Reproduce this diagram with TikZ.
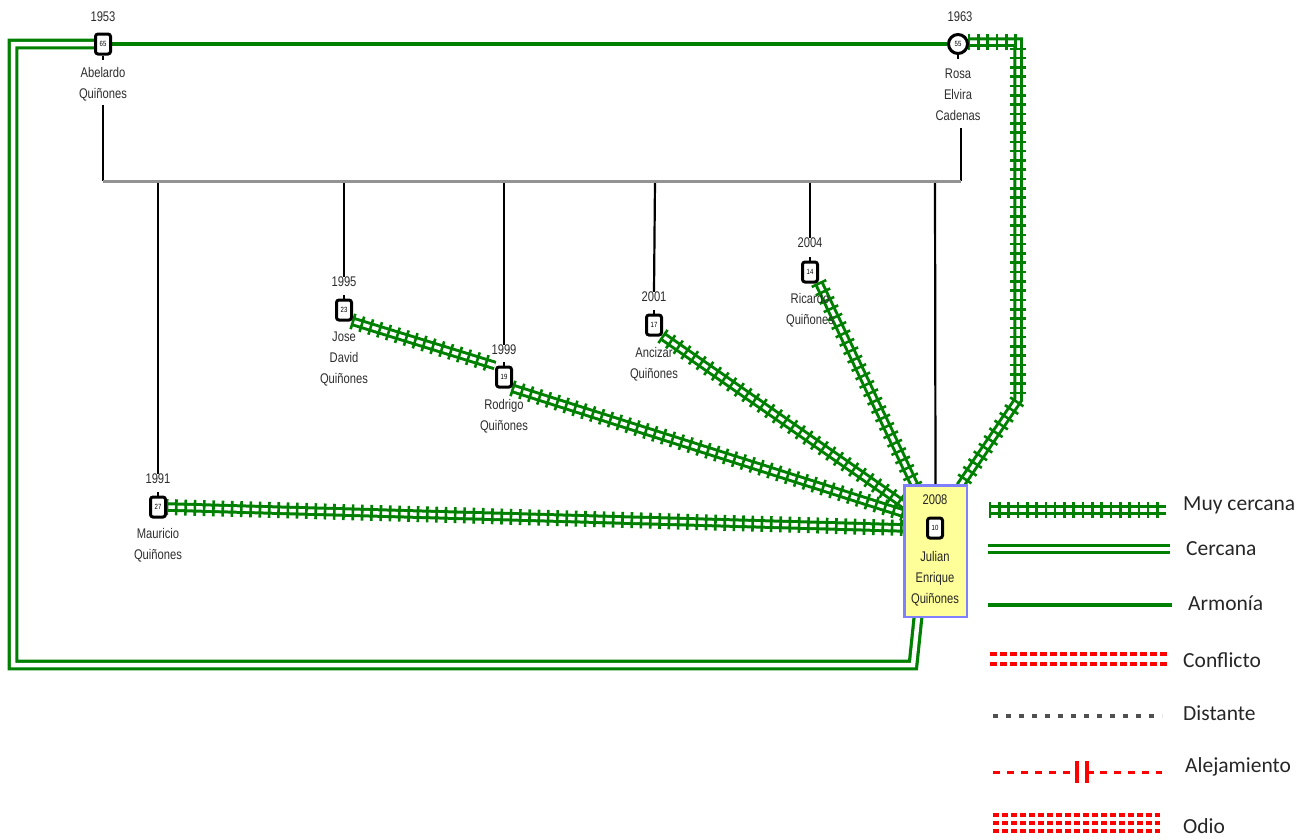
\documentclass[tikz,border=0pt]{standalone}
\usepackage{fontspec}
\setmainfont{Liberation Sans}
\newfontfamily\narrowfont[FakeStretch=0.8]{Liberation Sans}
\newfontfamily\legfont{Carlito}
\usetikzlibrary{decorations.markings}
\pgfdeclarelayer{bg}
\pgfsetlayers{bg,main}
\definecolor{gg}{RGB}{0,128,0}
\definecolor{lblue}{RGB}{128,128,255}
\definecolor{lyellow}{RGB}{255,255,153}
\definecolor{txt}{RGB}{45,45,45}
\definecolor{legtxt}{RGB}{38,38,38}
\definecolor{dgray}{RGB}{80,80,80}
\begin{document}
\begin{tikzpicture}[x=1pt,y=-1pt,
  lbl/.style={font=\narrowfont\fontsize{14}{21}\selectfont, text=txt, inner sep=0pt, align=center},
  agebox/.style={draw=black, line width=3pt, fill=white, rounded corners=2.5pt, minimum width=15pt, minimum height=20pt, inner sep=0pt, font=\narrowfont\fontsize{7.5}{8}\selectfont},
  agecirc/.style={draw=black, line width=3pt, fill=white, circle, minimum size=19pt, inner sep=0pt, font=\narrowfont\fontsize{7.5}{8}\selectfont},
  stub/.style={draw=black, line width=2.2pt},
  kin/.style={draw=black, line width=2.2pt},
  marr/.style={draw=gray!85, line width=3pt},
  muy/.style={draw=gg, double=white, double distance=3.5pt, line width=3pt,
    postaction={decorate, decoration={markings, mark=between positions 0 and 1 step 9.3pt with {\draw[gg, line width=2.6pt] (0pt,-8pt)--(0pt,8pt);}}}},
  cerc/.style={draw=gg, double=white, double distance=4.5pt, line width=3.2pt},
  armo/.style={draw=gg, line width=3.5pt},
  legl/.style={font=\legfont\fontsize{21.5}{24}\selectfont, text=legtxt, anchor=west, inner sep=0pt},
  conf/.style={draw=red, line width=3.2pt, dash pattern=on 7pt off 3pt},
  odio/.style={draw=red, line width=3.2pt, dash pattern=on 6pt off 3pt},
  dist/.style={draw=dgray, line width=3.5pt, dash pattern=on 5pt off 8pt},
  alej/.style={draw=red, line width=3pt, dash pattern=on 7pt off 7pt}
]
\useasboundingbox (0,0) rectangle (1314,839);

% parents
\node[lbl] (abeY) at (103,17) {1953};
\node[agebox] (abeS) at (103,44) {65};
\node[lbl] (abeN) at (103,84) {Abelardo\\Quiñones};
\node[lbl] (rosY) at (960,17) {1963};
\node[agecirc] (rosS) at (958,44) {55};
\node[lbl] (rosN) at (958,95) {Rosa\\Elvira\\Cadenas};

% children
\node[lbl] (mauY) at (158,479) {1991};
\node[agebox] (mauS) at (158,507) {27};
\node[lbl] (mauN) at (158,545.5) {Mauricio\\Quiñones};
\node[lbl] (josY) at (344,282) {1995};
\node[agebox] (josS) at (344,310) {23};
\node[lbl] (josN) at (344,359) {Jose\\David\\Quiñones};
\node[lbl] (rodY) at (504,350) {1999};
\node[agebox] (rodS) at (504,377) {19};
\node[lbl] (rodN) at (504,416.5) {Rodrigo\\Quiñones};
\node[lbl] (ancY) at (654,297) {2001};
\node[agebox] (ancS) at (654,325) {17};
\node[lbl] (ancN) at (654,364) {Ancizar\\Quiñones};
\node[lbl] (ricY) at (810,243) {2004};
\node[agebox] (ricS) at (810,272) {14};
\node[lbl] (ricN) at (810,310.5) {Ricardo\\Quiñones};

% Julian
\node[draw=lblue, line width=2.5pt, fill=lyellow, minimum width=62.5pt, minimum height=131.5pt, inner sep=0pt] (jul) at (935.5,551) {};
\node[lbl, text=black!85] (julY) at (935,500) {2008};
\node[agebox] (julS) at (935,528) {10};
\node[lbl, text=black!85] (julN) at (935,578.5) {Julian\\Enrique\\Quiñones};

% stubs
\draw[stub] (abeS.south) -- ++(0,4);
\draw[stub] (rosS.south) -- ++(0,4);
\foreach \s in {mauS,josS,rodS,ancS,ricS} {\draw[stub] (\s.north) -- ++(0,-4);}

% family structure
\coordinate (abeD) at (103,105);
\coordinate (rosD) at (961,128);
\coordinate (mL) at (103,181);
\coordinate (mR) at (961,181);
\coordinate (cMau) at (158,181);
\coordinate (cJos) at (344,181);
\coordinate (cRod) at (504,181);
\coordinate (cAnc) at (655,181);
\coordinate (cRic) at (810,181);
\coordinate (cJul) at (935,181);

\begin{pgfonlayer}{bg}
\draw[kin] (abeD) -- (mL);
\draw[kin] (rosD) -- (mR);
\draw[kin] (cMau) -- (mauY.north);
\draw[kin] (cJos) -- (josY.north);
\draw[kin] (cRod) -- (rodY.north);
\draw[kin] (cAnc) -- (ancY.north);
\draw[kin] (cRic) -- (ricY.north);
\draw[kin] (cJul) -- (jul.north);
\draw[marr] (mL) -- (mR);

% relationships
\coordinate (jMau) at (906,528);
\coordinate (jRod) at (906,514);
\coordinate (jAnc) at (906,506);
\coordinate (jRic) at (915,486);
\coordinate (jRos) at (960,486);
\coordinate (rosC1) at (1018,42);
\coordinate (rosC2) at (1018,400);
\coordinate (abeC1) at (13,44);
\coordinate (abeC2) at (13,665);
\coordinate (abeC3) at (913,665);
\coordinate (jAbe) at (918,617);

\draw[armo] (abeS.east) -- (rosS.west);
\draw[cerc] (abeS.west) -- (abeC1) -- (abeC2) -- (abeC3) -- (jAbe);
\draw[muy] (mauS.east) -- (jMau);
\draw[muy] (josS.south east) -- (rodS.north west);
\draw[muy] (rodS.south east) -- (jRod);
\draw[muy] (ancS.south east) -- (jAnc);
\draw[muy] (ricS.south east) -- (jRic);
\draw[muy] ([yshift=2pt]rosS.east) -- (rosC1) -- (rosC2) -- (jRos);
\end{pgfonlayer}

% legend
\draw[muy] (990,510) -- (1166,510);
\node[legl] (lg1) at (1183,505) {Muy cercana};
\draw[cerc] (988,549) -- (1170,549);
\node[legl] (lg2) at (1186,549) {Cercana};
\draw[armo] (988,605) -- (1172,605);
\node[legl] (lg3) at (1188,603) {Armonía};
\draw[conf] (990,654) -- (1168,654);
\draw[conf] (990,664) -- (1168,664);
\node[legl] (lg4) at (1183,660) {Conflicto};
\draw[dist] (993,716) -- (1162,716);
\node[legl] (lg5) at (1183,713) {Distante};
\draw[alej] (993,772) -- (1072,772);
\draw[alej] (1100,772) -- (1162,772);
\draw[red, line width=3.2pt] (1077,761) -- (1077,783);
\draw[red, line width=3.2pt] (1087,761) -- (1087,783);
\draw[red, line width=3pt] (1087,772) -- (1094,772);
\node[legl] (lg6) at (1185,767) {Alejamiento};
\draw[odio] (993,815) -- (1160,815);
\draw[odio] (993,823) -- (1160,823);
\draw[odio] (993,831) -- (1160,831);
\node[legl] (lg7) at (1183,826) {Odio};
\end{tikzpicture}
\end{document}
